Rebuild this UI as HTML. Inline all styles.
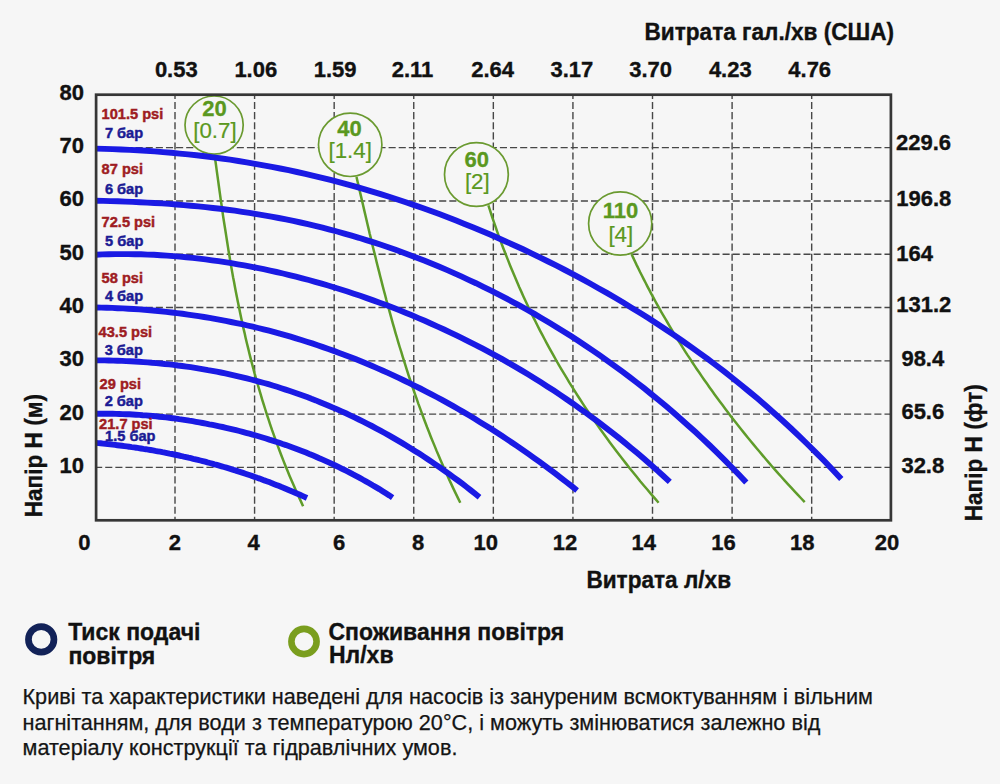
<!DOCTYPE html>
<html><head><meta charset="utf-8"><title>Pump curve</title>
<style>html,body{margin:0;padding:0;background:#f6f6f6;}svg{display:block;font-family:"Liberation Sans",sans-serif;}</style></head>
<body><svg width="1000" height="784" viewBox="0 0 1000 784">
<rect width="1000" height="784" fill="#f6f6f6"/>
<g stroke="#474747" stroke-width="1.4" stroke-dasharray="7.1 3.02"><line x1="175.00" y1="94.4" x2="175.00" y2="520.3" stroke-dashoffset="2.6"/><line x1="254.58" y1="94.4" x2="254.58" y2="520.3" stroke-dashoffset="2.6"/><line x1="334.17" y1="94.4" x2="334.17" y2="520.3" stroke-dashoffset="2.6"/><line x1="413.75" y1="94.4" x2="413.75" y2="520.3" stroke-dashoffset="2.6"/><line x1="493.34" y1="94.4" x2="493.34" y2="520.3" stroke-dashoffset="2.6"/><line x1="572.93" y1="94.4" x2="572.93" y2="520.3" stroke-dashoffset="2.6"/><line x1="652.51" y1="94.4" x2="652.51" y2="520.3" stroke-dashoffset="2.6"/><line x1="732.10" y1="94.4" x2="732.10" y2="520.3" stroke-dashoffset="2.6"/><line x1="811.68" y1="94.4" x2="811.68" y2="520.3" stroke-dashoffset="2.6"/><line x1="95.1" y1="467.42" x2="890.9" y2="467.42"/><line x1="95.1" y1="414.13" x2="890.9" y2="414.13"/><line x1="95.1" y1="360.83" x2="890.9" y2="360.83"/><line x1="95.1" y1="307.53" x2="890.9" y2="307.53"/><line x1="95.1" y1="254.24" x2="890.9" y2="254.24"/><line x1="95.1" y1="200.94" x2="890.9" y2="200.94"/><line x1="95.1" y1="147.64" x2="890.9" y2="147.64"/></g>
<circle cx="214.1" cy="125.1" r="29.1" fill="#f6f6f6" stroke="#6a9a30" stroke-width="1.7"/>
<text x="214.5" y="115.6" text-anchor="middle" font-weight="bold" font-size="22" fill="#5a9820" stroke="#5a9820" stroke-width="0.3">20</text>
<text x="214.9" y="138.3" text-anchor="middle" font-size="22.3" fill="#5a9820" stroke="#5a9820" stroke-width="0.2">[0.7]</text>
<circle cx="350.2" cy="144.8" r="31.7" fill="#f6f6f6" stroke="#6a9a30" stroke-width="1.7"/>
<text x="349.6" y="135.7" text-anchor="middle" font-weight="bold" font-size="22" fill="#5a9820" stroke="#5a9820" stroke-width="0.3">40</text>
<text x="350.2" y="158.4" text-anchor="middle" font-size="22.3" fill="#5a9820" stroke="#5a9820" stroke-width="0.2">[1.4]</text>
<circle cx="476.4" cy="174.5" r="31.9" fill="#f6f6f6" stroke="#6a9a30" stroke-width="1.7"/>
<text x="476.8" y="166.8" text-anchor="middle" font-weight="bold" font-size="22" fill="#5a9820" stroke="#5a9820" stroke-width="0.3">60</text>
<text x="477.3" y="188.6" text-anchor="middle" font-size="22.3" fill="#5a9820" stroke="#5a9820" stroke-width="0.2">[2]</text>
<circle cx="620.2" cy="223.5" r="31.6" fill="#f6f6f6" stroke="#6a9a30" stroke-width="1.7"/>
<text x="620.4" y="218.3" text-anchor="middle" font-weight="bold" font-size="22" fill="#5a9820" stroke="#5a9820" stroke-width="0.3">110</text>
<text x="620.8" y="241.5" text-anchor="middle" font-size="22.3" fill="#5a9820" stroke="#5a9820" stroke-width="0.2">[4]</text>
<g fill="none" stroke="#5f9c2a" stroke-width="2.5"><path d="M214.6,155.0 L215.3,160.1 L216.0,165.2 L216.7,170.3 L217.4,175.4 L218.1,180.4 L218.8,185.5 L219.5,190.6 L220.2,195.7 L220.9,200.8 L221.7,205.9 L222.4,211.0 L223.1,216.1 L223.9,221.2 L224.7,226.3 L225.5,231.3 L226.3,236.4 L227.1,241.5 L227.9,246.6 L228.7,251.7 L229.6,256.8 L230.4,261.9 L231.3,267.0 L232.2,272.1 L233.1,277.2 L234.1,282.2 L235.0,287.3 L236.0,292.4 L237.0,297.5 L238.0,302.6 L239.1,307.7 L240.1,312.8 L241.2,317.9 L242.3,323.0 L243.4,328.1 L244.6,333.1 L245.7,338.2 L246.9,343.3 L248.2,348.4 L249.4,353.5 L250.7,358.6 L252.0,363.7 L253.4,368.8 L254.7,373.9 L256.2,379.0 L257.6,384.0 L259.1,389.1 L260.6,394.2 L262.1,399.3 L263.7,404.4 L265.3,409.5 L266.9,414.6 L268.6,419.7 L270.3,424.8 L272.0,429.9 L273.8,434.9 L275.6,440.0 L277.5,445.1 L279.4,450.2 L281.3,455.3 L283.3,460.4 L285.3,465.5 L287.4,470.6 L289.5,475.7 L291.7,480.8 L293.9,485.8 L296.1,490.9 L298.4,496.0 L300.8,501.1 L303.1,506.2"/><path d="M356.5,177.0 L357.6,181.7 L358.7,186.4 L359.8,191.2 L360.9,195.9 L362.0,200.6 L363.1,205.3 L364.2,210.1 L365.3,214.8 L366.4,219.5 L367.5,224.2 L368.6,228.9 L369.7,233.7 L370.9,238.4 L372.0,243.1 L373.1,247.8 L374.3,252.5 L375.5,257.3 L376.6,262.0 L377.8,266.7 L379.0,271.4 L380.2,276.2 L381.4,280.9 L382.6,285.6 L383.8,290.3 L385.1,295.0 L386.3,299.8 L387.6,304.5 L388.9,309.2 L390.2,313.9 L391.5,318.7 L392.8,323.4 L394.2,328.1 L395.5,332.8 L396.9,337.5 L398.3,342.3 L399.7,347.0 L401.2,351.7 L402.6,356.4 L404.1,361.1 L405.6,365.9 L407.1,370.6 L408.6,375.3 L410.2,380.0 L411.8,384.8 L413.4,389.5 L415.0,394.2 L416.7,398.9 L418.3,403.6 L420.1,408.4 L421.8,413.1 L423.5,417.8 L425.3,422.5 L427.1,427.3 L429.0,432.0 L430.8,436.7 L432.7,441.4 L434.7,446.1 L436.6,450.9 L438.6,455.6 L440.6,460.3 L442.7,465.0 L444.7,469.7 L446.9,474.5 L449.0,479.2 L451.2,483.9 L453.4,488.6 L455.7,493.4 L458.0,498.1 L460.3,502.8"/><path d="M488.4,205.4 L489.8,209.7 L491.2,214.0 L492.6,218.3 L494.1,222.6 L495.6,226.9 L497.1,231.3 L498.6,235.6 L500.2,239.9 L501.8,244.2 L503.4,248.5 L505.1,252.8 L506.8,257.1 L508.5,261.4 L510.2,265.7 L512.0,270.0 L513.8,274.3 L515.6,278.6 L517.5,283.0 L519.3,287.3 L521.3,291.6 L523.2,295.9 L525.2,300.2 L527.2,304.5 L529.2,308.8 L531.3,313.1 L533.4,317.4 L535.6,321.7 L537.7,326.0 L539.9,330.4 L542.2,334.7 L544.5,339.0 L546.8,343.3 L549.1,347.6 L551.5,351.9 L553.9,356.2 L556.3,360.5 L558.8,364.8 L561.3,369.1 L563.9,373.4 L566.5,377.7 L569.1,382.1 L571.8,386.4 L574.5,390.7 L577.2,395.0 L580.0,399.3 L582.8,403.6 L585.6,407.9 L588.5,412.2 L591.5,416.5 L594.4,420.8 L597.4,425.1 L600.5,429.5 L603.6,433.8 L606.7,438.1 L609.9,442.4 L613.1,446.7 L616.3,451.0 L619.6,455.3 L622.9,459.6 L626.3,463.9 L629.7,468.2 L633.2,472.5 L636.7,476.8 L640.2,481.2 L643.8,485.5 L647.5,489.8 L651.1,494.1 L654.9,498.4 L658.6,502.7"/><path d="M631.6,254.3 L633.3,257.9 L635.0,261.5 L636.7,265.1 L638.5,268.7 L640.2,272.3 L642.0,275.8 L643.8,279.4 L645.7,283.0 L647.5,286.6 L649.4,290.2 L651.3,293.8 L653.3,297.4 L655.2,301.0 L657.2,304.6 L659.2,308.2 L661.2,311.8 L663.3,315.4 L665.4,318.9 L667.5,322.5 L669.6,326.1 L671.7,329.7 L673.9,333.3 L676.1,336.9 L678.3,340.5 L680.6,344.1 L682.8,347.7 L685.1,351.3 L687.4,354.9 L689.8,358.4 L692.1,362.0 L694.5,365.6 L696.9,369.2 L699.4,372.8 L701.8,376.4 L704.3,380.0 L706.9,383.6 L709.4,387.2 L712.0,390.8 L714.6,394.4 L717.2,398.0 L719.8,401.5 L722.5,405.1 L725.2,408.7 L727.9,412.3 L730.6,415.9 L733.4,419.5 L736.2,423.1 L739.1,426.7 L741.9,430.3 L744.8,433.9 L747.7,437.5 L750.6,441.0 L753.6,444.6 L756.6,448.2 L759.6,451.8 L762.6,455.4 L765.7,459.0 L768.8,462.6 L771.9,466.2 L775.1,469.8 L778.2,473.4 L781.5,477.0 L784.7,480.6 L787.9,484.1 L791.2,487.7 L794.6,491.3 L797.9,494.9 L801.3,498.5 L804.7,502.1"/></g>
<g fill="none" stroke="#1a1ae4" stroke-width="5.9" stroke-linecap="butt"><path d="M96.0,148.6 L104.4,148.9 L112.7,149.1 L121.1,149.5 L129.5,149.9 L137.9,150.3 L146.2,150.8 L154.6,151.4 L163.0,152.1 L171.4,152.8 L179.7,153.6 L188.1,154.4 L196.5,155.3 L204.9,156.3 L213.2,157.4 L221.6,158.5 L230.0,159.7 L238.4,161.0 L246.7,162.3 L255.1,163.8 L263.5,165.3 L271.9,166.8 L280.2,168.5 L288.6,170.2 L297.0,172.0 L305.4,173.9 L313.7,175.8 L322.1,177.8 L330.5,179.9 L338.9,182.1 L347.2,184.4 L355.6,186.7 L364.0,189.1 L372.3,191.6 L380.7,194.1 L389.1,196.8 L397.5,199.5 L405.8,202.3 L414.2,205.1 L422.6,208.0 L431.0,211.1 L439.3,214.1 L447.7,217.3 L456.1,220.6 L464.5,223.9 L472.8,227.3 L481.2,230.8 L489.6,234.3 L498.0,238.0 L506.3,241.7 L514.7,245.5 L523.1,249.3 L531.5,253.3 L539.8,257.4 L548.2,261.5 L556.6,265.7 L565.0,270.0 L573.3,274.4 L581.7,278.9 L590.1,283.5 L598.4,288.2 L606.8,292.9 L615.2,297.8 L623.6,302.8 L631.9,307.9 L640.3,313.1 L648.7,318.3 L657.1,323.8 L665.4,329.3 L673.8,334.9 L682.2,340.7 L690.6,346.6 L698.9,352.6 L707.3,358.7 L715.7,365.0 L724.1,371.4 L732.4,378.0 L740.8,384.7 L749.2,391.6 L757.6,398.6 L765.9,405.8 L774.3,413.2 L782.7,420.7 L791.1,428.5 L799.4,436.4 L807.8,444.5 L816.2,452.8 L824.6,461.3 L832.9,470.1 L841.3,479.1"/><path d="M96.0,200.7 L103.3,200.9 L110.6,201.1 L117.9,201.3 L125.2,201.6 L132.5,201.9 L139.8,202.2 L147.1,202.6 L154.5,203.0 L161.8,203.4 L169.1,203.9 L176.4,204.5 L183.7,205.1 L191.0,205.7 L198.3,206.4 L205.6,207.1 L212.9,208.0 L220.2,208.8 L227.5,209.7 L234.8,210.7 L242.1,211.8 L249.4,212.9 L256.7,214.1 L264.1,215.3 L271.4,216.6 L278.7,218.0 L286.0,219.4 L293.3,220.9 L300.6,222.5 L307.9,224.2 L315.2,225.9 L322.5,227.7 L329.8,229.6 L337.1,231.5 L344.4,233.6 L351.7,235.7 L359.0,237.8 L366.3,240.1 L373.7,242.4 L381.0,244.8 L388.3,247.3 L395.6,249.8 L402.9,252.5 L410.2,255.2 L417.5,258.0 L424.8,260.8 L432.1,263.8 L439.4,266.8 L446.7,269.9 L454.0,273.1 L461.3,276.4 L468.6,279.8 L476.0,283.2 L483.3,286.8 L490.6,290.4 L497.9,294.1 L505.2,297.9 L512.5,301.8 L519.8,305.7 L527.1,309.8 L534.4,313.9 L541.7,318.2 L549.0,322.5 L556.3,327.0 L563.6,331.5 L570.9,336.1 L578.2,340.8 L585.6,345.7 L592.9,350.6 L600.2,355.7 L607.5,360.8 L614.8,366.1 L622.1,371.4 L629.4,376.9 L636.7,382.5 L644.0,388.2 L651.3,394.1 L658.6,400.0 L665.9,406.1 L673.2,412.3 L680.5,418.7 L687.8,425.2 L695.2,431.8 L702.5,438.6 L709.8,445.5 L717.1,452.6 L724.4,459.8 L731.7,467.2 L739.0,474.8 L746.3,482.5"/><path d="M96.0,254.7 L102.4,254.4 L108.9,254.3 L115.3,254.1 L121.8,254.1 L128.2,254.1 L134.7,254.2 L141.1,254.3 L147.6,254.6 L154.0,254.8 L160.5,255.2 L166.9,255.6 L173.4,256.1 L179.8,256.6 L186.3,257.2 L192.7,257.9 L199.2,258.6 L205.6,259.4 L212.0,260.3 L218.5,261.2 L224.9,262.2 L231.4,263.2 L237.8,264.3 L244.3,265.4 L250.7,266.6 L257.2,267.9 L263.6,269.2 L270.1,270.6 L276.5,272.0 L283.0,273.5 L289.4,275.1 L295.9,276.7 L302.3,278.3 L308.8,280.0 L315.2,281.8 L321.7,283.7 L328.1,285.5 L334.5,287.5 L341.0,289.5 L347.4,291.5 L353.9,293.7 L360.3,295.8 L366.8,298.1 L373.2,300.4 L379.7,302.7 L386.1,305.1 L392.6,307.6 L399.0,310.1 L405.5,312.7 L411.9,315.3 L418.4,318.1 L424.8,320.8 L431.3,323.7 L437.7,326.6 L444.1,329.5 L450.6,332.6 L457.0,335.7 L463.5,338.8 L469.9,342.1 L476.4,345.3 L482.8,348.7 L489.3,352.2 L495.7,355.7 L502.2,359.2 L508.6,362.9 L515.1,366.6 L521.5,370.4 L528.0,374.3 L534.4,378.3 L540.9,382.3 L547.3,386.4 L553.8,390.6 L560.2,394.9 L566.6,399.3 L573.1,403.7 L579.5,408.3 L586.0,412.9 L592.4,417.6 L598.9,422.4 L605.3,427.3 L611.8,432.3 L618.2,437.4 L624.7,442.6 L631.1,447.9 L637.6,453.3 L644.0,458.8 L650.5,464.4 L656.9,470.1 L663.4,476.0 L669.8,481.9"/><path d="M96.0,307.5 L101.4,307.6 L106.8,307.8 L112.2,307.9 L117.6,308.2 L123.0,308.4 L128.4,308.7 L133.8,309.0 L139.2,309.4 L144.7,309.8 L150.1,310.3 L155.5,310.8 L160.9,311.3 L166.3,311.9 L171.7,312.5 L177.1,313.1 L182.5,313.8 L187.9,314.6 L193.3,315.3 L198.7,316.2 L204.1,317.0 L209.5,317.9 L214.9,318.9 L220.3,319.9 L225.7,320.9 L231.1,322.0 L236.5,323.1 L242.0,324.2 L247.4,325.5 L252.8,326.7 L258.2,328.0 L263.6,329.3 L269.0,330.7 L274.4,332.1 L279.8,333.6 L285.2,335.1 L290.6,336.7 L296.0,338.3 L301.4,340.0 L306.8,341.7 L312.2,343.4 L317.6,345.2 L323.0,347.1 L328.4,349.0 L333.8,350.9 L339.3,352.9 L344.7,354.9 L350.1,357.0 L355.5,359.1 L360.9,361.3 L366.3,363.5 L371.7,365.8 L377.1,368.1 L382.5,370.5 L387.9,372.9 L393.3,375.4 L398.7,377.9 L404.1,380.5 L409.5,383.1 L414.9,385.8 L420.3,388.5 L425.7,391.3 L431.1,394.1 L436.6,397.0 L442.0,399.9 L447.4,402.9 L452.8,405.9 L458.2,409.0 L463.6,412.1 L469.0,415.3 L474.4,418.6 L479.8,421.9 L485.2,425.2 L490.6,428.6 L496.0,432.1 L501.4,435.6 L506.8,439.1 L512.2,442.8 L517.6,446.4 L523.0,450.2 L528.4,453.9 L533.9,457.8 L539.3,461.7 L544.7,465.6 L550.1,469.6 L555.5,473.7 L560.9,477.8 L566.3,482.0 L571.7,486.2 L577.1,490.5"/><path d="M96.0,360.4 L100.3,360.4 L104.6,360.4 L108.9,360.5 L113.2,360.6 L117.5,360.7 L121.9,360.9 L126.2,361.1 L130.5,361.3 L134.8,361.5 L139.1,361.8 L143.4,362.1 L147.7,362.4 L152.0,362.8 L156.3,363.1 L160.6,363.5 L164.9,364.0 L169.3,364.4 L173.6,364.9 L177.9,365.5 L182.2,366.0 L186.5,366.6 L190.8,367.2 L195.1,367.9 L199.4,368.6 L203.7,369.3 L208.0,370.1 L212.3,370.8 L216.7,371.7 L221.0,372.5 L225.3,373.4 L229.6,374.3 L233.9,375.3 L238.2,376.3 L242.5,377.3 L246.8,378.4 L251.1,379.5 L255.4,380.6 L259.7,381.8 L264.1,383.0 L268.4,384.2 L272.7,385.5 L277.0,386.8 L281.3,388.2 L285.6,389.6 L289.9,391.0 L294.2,392.5 L298.5,394.0 L302.8,395.5 L307.1,397.1 L311.4,398.8 L315.8,400.4 L320.1,402.2 L324.4,403.9 L328.7,405.7 L333.0,407.6 L337.3,409.4 L341.6,411.4 L345.9,413.3 L350.2,415.3 L354.5,417.4 L358.8,419.5 L363.2,421.6 L367.5,423.8 L371.8,426.0 L376.1,428.3 L380.4,430.6 L384.7,433.0 L389.0,435.4 L393.3,437.9 L397.6,440.4 L401.9,442.9 L406.2,445.5 L410.6,448.2 L414.9,450.9 L419.2,453.6 L423.5,456.4 L427.8,459.2 L432.1,462.1 L436.4,465.1 L440.7,468.0 L445.0,471.1 L449.3,474.2 L453.6,477.3 L458.0,480.5 L462.3,483.7 L466.6,487.0 L470.9,490.4 L475.2,493.8 L479.5,497.2"/><path d="M96.0,413.8 L99.3,413.8 L102.7,413.7 L106.0,413.7 L109.3,413.8 L112.7,413.8 L116.0,413.9 L119.3,414.0 L122.7,414.1 L126.0,414.2 L129.3,414.3 L132.7,414.5 L136.0,414.7 L139.3,414.9 L142.7,415.2 L146.0,415.4 L149.3,415.7 L152.7,416.0 L156.0,416.3 L159.3,416.7 L162.7,417.0 L166.0,417.4 L169.3,417.8 L172.6,418.2 L176.0,418.7 L179.3,419.2 L182.6,419.6 L186.0,420.1 L189.3,420.7 L192.6,421.2 L196.0,421.8 L199.3,422.4 L202.6,423.0 L206.0,423.6 L209.3,424.3 L212.6,424.9 L216.0,425.6 L219.3,426.3 L222.6,427.0 L226.0,427.8 L229.3,428.6 L232.6,429.4 L236.0,430.2 L239.3,431.0 L242.6,431.9 L246.0,432.8 L249.3,433.7 L252.6,434.6 L256.0,435.5 L259.3,436.5 L262.6,437.5 L266.0,438.5 L269.3,439.6 L272.6,440.6 L276.0,441.7 L279.3,442.8 L282.6,444.0 L286.0,445.1 L289.3,446.3 L292.6,447.5 L296.0,448.8 L299.3,450.0 L302.6,451.3 L306.0,452.6 L309.3,454.0 L312.6,455.3 L316.0,456.7 L319.3,458.2 L322.6,459.6 L325.9,461.1 L329.3,462.6 L332.6,464.2 L335.9,465.7 L339.3,467.3 L342.6,469.0 L345.9,470.6 L349.3,472.3 L352.6,474.1 L355.9,475.8 L359.3,477.6 L362.6,479.5 L365.9,481.3 L369.3,483.2 L372.6,485.2 L375.9,487.1 L379.3,489.1 L382.6,491.2 L385.9,493.3 L389.3,495.4 L392.6,497.6"/><path d="M96.0,442.9 L98.4,443.1 L100.7,443.3 L103.1,443.6 L105.5,443.8 L107.9,444.1 L110.2,444.3 L112.6,444.6 L115.0,444.9 L117.3,445.2 L119.7,445.5 L122.1,445.8 L124.4,446.1 L126.8,446.4 L129.2,446.7 L131.6,447.1 L133.9,447.4 L136.3,447.7 L138.7,448.1 L141.0,448.5 L143.4,448.9 L145.8,449.2 L148.2,449.6 L150.5,450.0 L152.9,450.4 L155.3,450.9 L157.6,451.3 L160.0,451.7 L162.4,452.2 L164.8,452.6 L167.1,453.1 L169.5,453.6 L171.9,454.0 L174.2,454.5 L176.6,455.0 L179.0,455.5 L181.3,456.0 L183.7,456.6 L186.1,457.1 L188.5,457.7 L190.8,458.2 L193.2,458.8 L195.6,459.3 L197.9,459.9 L200.3,460.5 L202.7,461.1 L205.1,461.7 L207.4,462.4 L209.8,463.0 L212.2,463.6 L214.5,464.3 L216.9,464.9 L219.3,465.6 L221.7,466.3 L224.0,467.0 L226.4,467.7 L228.8,468.4 L231.1,469.1 L233.5,469.9 L235.9,470.6 L238.2,471.4 L240.6,472.1 L243.0,472.9 L245.4,473.7 L247.7,474.5 L250.1,475.3 L252.5,476.1 L254.8,476.9 L257.2,477.8 L259.6,478.6 L262.0,479.5 L264.3,480.4 L266.7,481.2 L269.1,482.1 L271.4,483.0 L273.8,484.0 L276.2,484.9 L278.6,485.8 L280.9,486.8 L283.3,487.7 L285.7,488.7 L288.0,489.7 L290.4,490.7 L292.8,491.7 L295.1,492.7 L297.5,493.8 L299.9,494.8 L302.3,495.9 L304.6,496.9 L307.0,498.0"/></g>
<rect x="96.1" y="94.7" width="794.8" height="425.59999999999997" fill="none" stroke="#363636" stroke-width="2.7"/>
<text x="101.6" y="118.5" font-weight="bold" font-size="14.6" fill="#9e1c22" stroke="#9e1c22" stroke-width="0.45">101.5 psi</text>
<text x="104.9" y="138.3" font-weight="bold" font-size="14.6" fill="#1b1b94" stroke="#1b1b94" stroke-width="0.45">7 бар</text>
<text x="101.6" y="174" font-weight="bold" font-size="14.6" fill="#9e1c22" stroke="#9e1c22" stroke-width="0.45">87 psi</text>
<text x="104.9" y="193.7" font-weight="bold" font-size="14.6" fill="#1b1b94" stroke="#1b1b94" stroke-width="0.45">6 бар</text>
<text x="101.6" y="227" font-weight="bold" font-size="14.6" fill="#9e1c22" stroke="#9e1c22" stroke-width="0.45">72.5 psi</text>
<text x="105.1" y="245.6" font-weight="bold" font-size="14.6" fill="#1b1b94" stroke="#1b1b94" stroke-width="0.45">5 бар</text>
<text x="101.6" y="282.8" font-weight="bold" font-size="14.6" fill="#9e1c22" stroke="#9e1c22" stroke-width="0.45">58 psi</text>
<text x="104.9" y="301" font-weight="bold" font-size="14.6" fill="#1b1b94" stroke="#1b1b94" stroke-width="0.45">4 бар</text>
<text x="98.6" y="337" font-weight="bold" font-size="14.6" fill="#9e1c22" stroke="#9e1c22" stroke-width="0.45">43.5 psi</text>
<text x="104.7" y="354.7" font-weight="bold" font-size="14.6" fill="#1b1b94" stroke="#1b1b94" stroke-width="0.45">3 бар</text>
<text x="99.6" y="389" font-weight="bold" font-size="14.6" fill="#9e1c22" stroke="#9e1c22" stroke-width="0.45">29 psi</text>
<text x="104.7" y="406" font-weight="bold" font-size="14.6" fill="#1b1b94" stroke="#1b1b94" stroke-width="0.45">2 бар</text>
<text x="99.1" y="428.6" font-weight="bold" font-size="14.6" fill="#9e1c22" stroke="#9e1c22" stroke-width="0.45">21.7 psi</text>
<text x="105.1" y="441.1" font-weight="bold" font-size="14.6" fill="#1b1b94" stroke="#1b1b94" stroke-width="0.45">1.5 бар</text>
<text x="84" y="472.8" text-anchor="end" font-weight="bold" font-size="22" fill="#111" stroke="#111" stroke-width="0.35">10</text>
<text x="84" y="419.5" text-anchor="end" font-weight="bold" font-size="22" fill="#111" stroke="#111" stroke-width="0.35">20</text>
<text x="84" y="366.2" text-anchor="end" font-weight="bold" font-size="22" fill="#111" stroke="#111" stroke-width="0.35">30</text>
<text x="84" y="312.9" text-anchor="end" font-weight="bold" font-size="22" fill="#111" stroke="#111" stroke-width="0.35">40</text>
<text x="84" y="259.6" text-anchor="end" font-weight="bold" font-size="22" fill="#111" stroke="#111" stroke-width="0.35">50</text>
<text x="84" y="206.3" text-anchor="end" font-weight="bold" font-size="22" fill="#111" stroke="#111" stroke-width="0.35">60</text>
<text x="84" y="153.0" text-anchor="end" font-weight="bold" font-size="22" fill="#111" stroke="#111" stroke-width="0.35">70</text>
<text x="84" y="99.7" text-anchor="end" font-weight="bold" font-size="22" fill="#111" stroke="#111" stroke-width="0.35">80</text>
<text x="84.4" y="550" text-anchor="middle" font-weight="bold" font-size="22" fill="#111" stroke="#111" stroke-width="0.35">0</text>
<text x="174.8" y="550" text-anchor="middle" font-weight="bold" font-size="22" fill="#111" stroke="#111" stroke-width="0.35">2</text>
<text x="253.6" y="550" text-anchor="middle" font-weight="bold" font-size="22" fill="#111" stroke="#111" stroke-width="0.35">4</text>
<text x="339.2" y="550" text-anchor="middle" font-weight="bold" font-size="22" fill="#111" stroke="#111" stroke-width="0.35">6</text>
<text x="418.1" y="550" text-anchor="middle" font-weight="bold" font-size="22" fill="#111" stroke="#111" stroke-width="0.35">8</text>
<text x="485.8" y="550" text-anchor="middle" font-weight="bold" font-size="22" fill="#111" stroke="#111" stroke-width="0.35">10</text>
<text x="565" y="550" text-anchor="middle" font-weight="bold" font-size="22" fill="#111" stroke="#111" stroke-width="0.35">12</text>
<text x="643.8" y="550" text-anchor="middle" font-weight="bold" font-size="22" fill="#111" stroke="#111" stroke-width="0.35">14</text>
<text x="723.4" y="550" text-anchor="middle" font-weight="bold" font-size="22" fill="#111" stroke="#111" stroke-width="0.35">16</text>
<text x="802.2" y="550" text-anchor="middle" font-weight="bold" font-size="22" fill="#111" stroke="#111" stroke-width="0.35">18</text>
<text x="887" y="550" text-anchor="middle" font-weight="bold" font-size="22" fill="#111" stroke="#111" stroke-width="0.35">20</text>
<text x="176.3" y="76.6" text-anchor="middle" font-weight="bold" font-size="22" fill="#111" stroke="#111" stroke-width="0.35">0.53</text>
<text x="255.8" y="76.6" text-anchor="middle" font-weight="bold" font-size="22" fill="#111" stroke="#111" stroke-width="0.35">1.06</text>
<text x="335.1" y="76.6" text-anchor="middle" font-weight="bold" font-size="22" fill="#111" stroke="#111" stroke-width="0.35">1.59</text>
<text x="412.5" y="76.6" text-anchor="middle" font-weight="bold" font-size="22" fill="#111" stroke="#111" stroke-width="0.35">2.11</text>
<text x="492.6" y="76.6" text-anchor="middle" font-weight="bold" font-size="22" fill="#111" stroke="#111" stroke-width="0.35">2.64</text>
<text x="571.9" y="76.6" text-anchor="middle" font-weight="bold" font-size="22" fill="#111" stroke="#111" stroke-width="0.35">3.17</text>
<text x="650.6" y="76.6" text-anchor="middle" font-weight="bold" font-size="22" fill="#111" stroke="#111" stroke-width="0.35">3.70</text>
<text x="730.3" y="76.6" text-anchor="middle" font-weight="bold" font-size="22" fill="#111" stroke="#111" stroke-width="0.35">4.23</text>
<text x="809.7" y="76.6" text-anchor="middle" font-weight="bold" font-size="22" fill="#111" stroke="#111" stroke-width="0.35">4.76</text>
<text x="896" y="150" font-weight="bold" font-size="22" fill="#111" stroke="#111" stroke-width="0.35">229.6</text>
<text x="896.2" y="205.7" font-weight="bold" font-size="22" fill="#111" stroke="#111" stroke-width="0.35">196.8</text>
<text x="896.2" y="261" font-weight="bold" font-size="22" fill="#111" stroke="#111" stroke-width="0.35">164</text>
<text x="896.2" y="311.7" font-weight="bold" font-size="22" fill="#111" stroke="#111" stroke-width="0.35">131.2</text>
<text x="901.4" y="366.2" font-weight="bold" font-size="22" fill="#111" stroke="#111" stroke-width="0.35">98.4</text>
<text x="901.4" y="418.5" font-weight="bold" font-size="22" fill="#111" stroke="#111" stroke-width="0.35">65.6</text>
<text x="901.4" y="473.3" font-weight="bold" font-size="22" fill="#111" stroke="#111" stroke-width="0.35">32.8</text>
<text transform="translate(644.5,40.3) scale(1,1.08)" font-weight="bold" font-size="22.6" fill="#111" stroke="#111" stroke-width="0.35">Витрата гал./хв (США)</text>
<text transform="translate(586.4,588) scale(1,1.08)" font-weight="bold" font-size="22.6" fill="#111" stroke="#111" stroke-width="0.35">Витрата л/хв</text>
<text transform="translate(42.2,517.3) rotate(-90) scale(1,1.08)" font-weight="bold" font-size="22.6" fill="#111" stroke="#111" stroke-width="0.35">Напір H (м)</text>
<text transform="translate(981.8,521.3) rotate(-90) scale(1,1.08)" font-weight="bold" font-size="22.6" fill="#111" stroke="#111" stroke-width="0.35">Напір H (фт)</text>
<circle cx="41.2" cy="639.4" r="12.75" fill="none" stroke="#122258" stroke-width="6.7"/>
<circle cx="304" cy="641.5" r="12.6" fill="none" stroke="#7a9e1e" stroke-width="6.6"/>
<text x="68.2" y="639.9" font-weight="bold" font-size="23" fill="#111" stroke="#111" stroke-width="0.35">Тиск подачі</text>
<text x="68.4" y="664.3" font-weight="bold" font-size="23" fill="#111" stroke="#111" stroke-width="0.35">повітря</text>
<text x="328.4" y="639.9" font-weight="bold" font-size="23" fill="#111" stroke="#111" stroke-width="0.35">Споживання повітря</text>
<text x="329" y="662.8" font-weight="bold" font-size="23" fill="#111" stroke="#111" stroke-width="0.35">Нл/хв</text>
<text font-size="21.65" fill="#141414" stroke="#141414" stroke-width="0.25"><tspan x="22.5" y="704">Криві та характеристики наведені для насосів із зануреним всмоктуванням і вільним</tspan><tspan x="22.5" y="729.5">нагнітанням, для води з температурою 20°C, і можуть змінюватися залежно від</tspan><tspan x="22.5" y="755">матеріалу конструкції та гідравлічних умов.</tspan></text>
</svg></body></html>
